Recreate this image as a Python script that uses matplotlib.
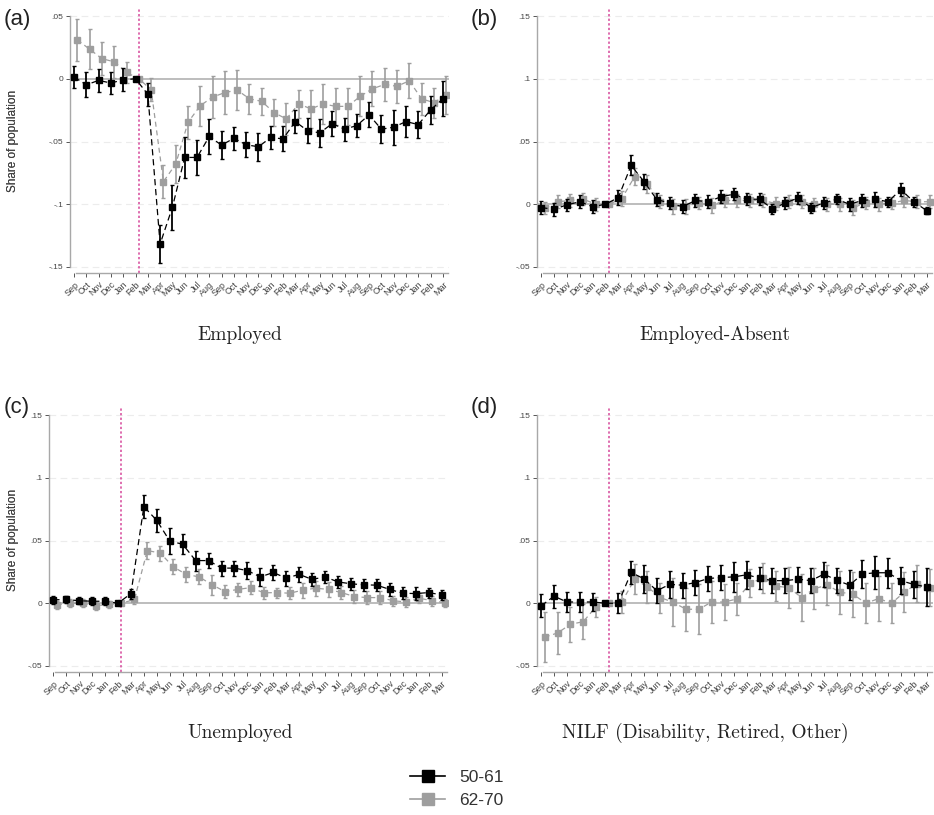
import numpy as np
import matplotlib
matplotlib.use("Agg")
import matplotlib.pyplot as plt
from matplotlib.lines import Line2D

plt.rcParams["font.family"] = ["Liberation Sans", "DejaVu Sans"]

months = ["Sep", "Oct", "Nov", "Dec", "Jan", "Feb", "Mar", "Apr", "May", "Jun", "Jul", "Aug",
          "Sep", "Oct", "Nov", "Dec", "Jan", "Feb", "Mar", "Apr", "May", "Jun", "Jul", "Aug",
          "Sep", "Oct", "Nov", "Dec", "Jan", "Feb", "Mar"]

# (a) Employed
emp_young = [0.0013, -0.0048, -0.0013, -0.0034, -0.0008, 0.0, -0.0124, -0.1317, -0.1024, -0.0627,
             -0.0627, -0.046, -0.0529, -0.0474, -0.0526, -0.0542, -0.0468, -0.0479, -0.0341, -0.0415,
             -0.0431, -0.0357, -0.0402, -0.0373, -0.0288, -0.0402, -0.0386, -0.0341, -0.0365, -0.0249, -0.0159]
emp_young_ci = [0.009, 0.01, 0.009, 0.009, 0.009, 0.0, 0.009, 0.015, 0.018, 0.016,
                0.014, 0.014, 0.011, 0.009, 0.01, 0.011, 0.009, 0.01, 0.009, 0.01,
                0.011, 0.01, 0.009, 0.009, 0.01, 0.011, 0.014, 0.012, 0.011, 0.011, 0.014]
emp_old = [0.031, 0.0235, 0.016, 0.0135, 0.005, 0.0, -0.0087, -0.082, -0.068, -0.0347,
           -0.0214, -0.0146, -0.011, -0.009, -0.016, -0.018, -0.027, -0.032, -0.020, -0.024,
           -0.020, -0.022, -0.022, -0.014, -0.008, -0.0045, -0.006, -0.0016, -0.016, -0.019, -0.013]
emp_old_ci = [0.017, 0.016, 0.013, 0.013, 0.008, 0.0, 0.009, 0.013, 0.015, 0.013,
              0.016, 0.017, 0.017, 0.016, 0.012, 0.011, 0.011, 0.013, 0.011, 0.015,
              0.016, 0.015, 0.015, 0.016, 0.014, 0.013, 0.013, 0.014, 0.013, 0.012, 0.015]

# (b) Employed-Absent
abs_young = [-0.0027, -0.004, -0.0005, 0.002, -0.002, 0.0, 0.0053, 0.031, 0.018, 0.0037,
             0.001, -0.002, 0.003, 0.002, 0.006, 0.008, 0.004, 0.004, -0.0037, 0.001,
             0.005, -0.0027, 0.001, 0.004, 0.0, 0.003, 0.004, 0.002, 0.0117, 0.002, -0.005]
abs_young_ci = [0.005, 0.005, 0.005, 0.005, 0.005, 0.0, 0.006, 0.008, 0.006, 0.005,
                0.005, 0.005, 0.005, 0.005, 0.005, 0.005, 0.005, 0.005, 0.004, 0.005,
                0.005, 0.004, 0.005, 0.004, 0.005, 0.005, 0.006, 0.004, 0.005, 0.004, 0.003]
abs_old = [-0.003, 0.002, 0.003, 0.004, 0.0, 0.0, 0.0045, 0.022, 0.016, 0.002,
           -0.0015, -0.0015, 0.001, -0.001, 0.003, 0.003, 0.003, 0.003, 0.0005, 0.002,
           0.002, 0.0, 0.0, 0.0, -0.0027, 0.001, 0.0, 0.001, 0.003, 0.002, 0.002]
abs_old_ci = [0.005, 0.005, 0.005, 0.005, 0.005, 0.0, 0.006, 0.007, 0.007, 0.005,
              0.006, 0.006, 0.005, 0.006, 0.005, 0.005, 0.005, 0.005, 0.005, 0.005,
              0.005, 0.005, 0.005, 0.005, 0.006, 0.005, 0.005, 0.005, 0.005, 0.005, 0.005]

# (c) Unemployed
une_young = [0.0027, 0.003, 0.002, 0.0016, 0.0016, 0.0, 0.0077, 0.077, 0.066, 0.0496,
             0.047, 0.034, 0.034, 0.028, 0.028, 0.026, 0.021, 0.0245, 0.020, 0.023,
             0.019, 0.021, 0.017, 0.0155, 0.0147, 0.0144, 0.011, 0.008, 0.0077, 0.0085, 0.0067]
une_young_ci = [0.003, 0.003, 0.003, 0.003, 0.003, 0.0, 0.004, 0.009, 0.009, 0.01,
                0.008, 0.008, 0.006, 0.006, 0.006, 0.007, 0.007, 0.006, 0.006, 0.006,
                0.005, 0.005, 0.005, 0.005, 0.005, 0.005, 0.005, 0.005, 0.005, 0.004, 0.004]
une_old = [-0.0013, 0.0, 0.0, -0.002, -0.001, 0.0, 0.003, 0.042, 0.040, 0.029,
           0.023, 0.021, 0.0147, 0.0093, 0.011, 0.0125, 0.0083, 0.0085, 0.008, 0.0104,
           0.012, 0.011, 0.0085, 0.0053, 0.0045, 0.0045, 0.002, 0.001, 0.004, 0.002, 0.0003]
une_old_ci = [0.003, 0.003, 0.003, 0.003, 0.003, 0.0, 0.004, 0.007, 0.006, 0.006,
              0.006, 0.006, 0.008, 0.005, 0.005, 0.005, 0.005, 0.004, 0.005, 0.006,
              0.006, 0.006, 0.005, 0.005, 0.005, 0.005, 0.004, 0.004, 0.004, 0.004, 0.003]

# (d) NILF
nilf_young = [-0.002, 0.0056, 0.001, 0.001, 0.001, 0.0, 0.0, 0.0245, 0.0195, 0.01,
              0.015, 0.0144, 0.0165, 0.0197, 0.0205, 0.021, 0.0227, 0.020, 0.018, 0.018,
              0.0192, 0.018, 0.0232, 0.0184, 0.0144, 0.0232, 0.0243, 0.0243, 0.018, 0.015, 0.013]
nilf_young_ci = [0.009, 0.009, 0.008, 0.008, 0.007, 0.0, 0.008, 0.009, 0.011, 0.01,
                 0.011, 0.01, 0.01, 0.01, 0.01, 0.012, 0.011, 0.009, 0.01, 0.01,
                 0.01, 0.01, 0.01, 0.01, 0.012, 0.011, 0.013, 0.012, 0.011, 0.011, 0.015]
nilf_old = [-0.027, -0.0237, -0.0168, -0.0147, -0.0027, 0.0, 0.001, 0.019, 0.013, 0.0045,
            0.0008, -0.0048, -0.0048, 0.001, 0.001, 0.0035, 0.016, 0.020, 0.0136, 0.0125,
            0.0045, 0.0117, 0.0144, 0.0088, 0.0072, 0.0, 0.0037, 0.0, 0.0088, 0.0157, 0.0125]
nilf_old_ci = [0.02, 0.017, 0.014, 0.014, 0.008, 0.0, 0.009, 0.012, 0.013, 0.012,
               0.019, 0.017, 0.02, 0.017, 0.014, 0.013, 0.011, 0.012, 0.012, 0.016,
               0.019, 0.016, 0.016, 0.017, 0.018, 0.016, 0.018, 0.016, 0.016, 0.015, 0.015]

panels = [
    ("(a)", "Employed", emp_young, emp_young_ci, emp_old, emp_old_ci,
     [0.05, 0, -0.05, -0.1, -0.15], [".05", "0", "-.05", "-.1", "-.15"], (-0.15, 0.05)),
    ("(b)", "Employed-Absent", abs_young, abs_young_ci, abs_old, abs_old_ci,
     [0.15, 0.1, 0.05, 0, -0.05], [".15", ".1", ".05", "0", "-.05"], (-0.05, 0.15)),
    ("(c)", "Unemployed", une_young, une_young_ci, une_old, une_old_ci,
     [0.15, 0.1, 0.05, 0, -0.05], [".15", ".1", ".05", "0", "-.05"], (-0.05, 0.15)),
    ("(d)", "NILF (Disability, Retired, Other)", nilf_young, nilf_young_ci, nilf_old, nilf_old_ci,
     [0.15, 0.1, 0.05, 0, -0.05], [".15", ".1", ".05", "0", "-.05"], (-0.05, 0.15)),
]

W, H = 934, 815
fig = plt.figure(figsize=(W / 100, H / 100), dpi=100)

# axes boxes in pixels: left, top, right, bottom
boxes = [(70, 8, 449, 273), (537, 8, 933, 273), (49, 407, 448, 672), (537, 407, 933, 672)]
label_pos = [(4, 19), (471, 19), (4, 407), (471, 407)]
title_pos = [(240, 335), (715, 335), (240, 733), (705, 733)]

BLACK = "black"
GRAY = "#9e9e9e"
x = np.arange(len(months))
off = 0.27

for i, (lab, title, yv, yci, ov, oci, ticks, tlabels, rng) in enumerate(panels):
    l, t, r, b = boxes[i]
    ax = fig.add_axes([l / W, 1 - b / H, (r - l) / W, (b - t) / H])
    span = rng[1] - rng[0]
    ax.set_ylim(rng[0] - span * 0.024, rng[1] + span * 0.032)
    ax.set_xlim(-0.33, 30.5)

    for tk in ticks:
        if tk == 0:
            ax.axhline(0, color="#bdbdbd", lw=1.4, zorder=1)
        else:
            ax.axhline(tk, color="#ececec", lw=0.8, ls=(0, (6, 4)), zorder=0)
    ax.axvline(5 + off, color="#d6479a", lw=1.1, ls=(0, (1.5, 1.5)), zorder=1)

    ax.errorbar(x + off, ov, yerr=oci, color=GRAY, ecolor=GRAY, marker="s", ms=5,
                ls=(0, (4, 3)), lw=0.9, elinewidth=1.2, capsize=1.6, capthick=1.0, zorder=2)
    ax.errorbar(x, yv, yerr=yci, color=BLACK, ecolor=BLACK, marker="s", ms=5,
                ls=(0, (5, 3)), lw=0.9, elinewidth=1.3, capsize=1.6, capthick=1.0, zorder=3)

    for s in ["top", "right"]:
        ax.spines[s].set_visible(False)
    ax.spines["left"].set_bounds(rng[0], rng[1])
    ax.spines["bottom"].set_bounds(0.15, 30.4)
    for s in ["left", "bottom"]:
        ax.spines[s].set_color("#a8a8a8")
        ax.spines[s].set_linewidth(1.0)

    ax.set_yticks(ticks)
    ax.set_yticklabels(tlabels)
    ax.set_xticks(x)
    ax.set_xticklabels(months, rotation=45, ha="right", rotation_mode="anchor")
    ax.tick_params(axis="y", labelsize=6, colors="#555555", length=3, width=0.7, pad=2)
    ax.tick_params(axis="x", labelsize=6.5, colors="#555555", length=3, width=0.7, pad=2)
    for tl in ax.get_xticklabels() + ax.get_yticklabels():
        tl.set_color("#444444")
    ax.set_ylabel("Share of population", fontsize=8.5, color="#444444")
    ax.yaxis.set_label_coords((19 - l) / (r - l), 0.5)

    fig.text(label_pos[i][0] / W, 1 - label_pos[i][1] / H, lab, fontsize=16,
             ha="left", va="center", color="#222222")
    fig.text(title_pos[i][0] / W, 1 - title_pos[i][1] / H, title, fontsize=14,
             family="cmr10", ha="center", va="center", color="#222222")

# legend at the bottom
handles = [
    Line2D([0], [0], color=BLACK, marker="s", ms=8, lw=1.2),
    Line2D([0], [0], color=GRAY, marker="s", ms=8, lw=1.2),
]
fig.legend(handles, ["50-61", "62-70"], loc="center", bbox_to_anchor=(457 / W, 1 - 789 / H),
           frameon=False, fontsize=12.5, handlelength=2.0, labelspacing=0.5,
           labelcolor="#333333")

fig.savefig("out.png", dpi=100)
